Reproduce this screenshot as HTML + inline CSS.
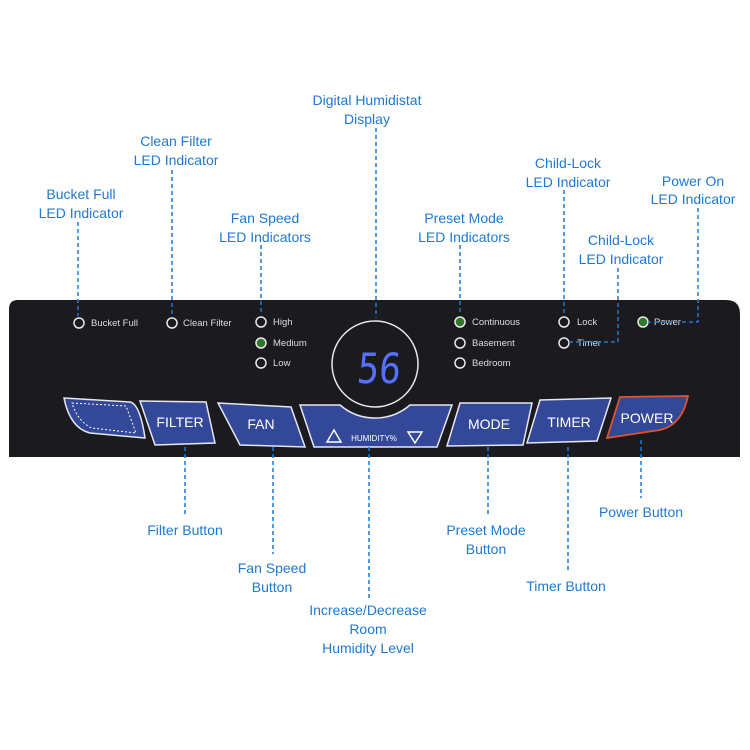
<!DOCTYPE html>
<html><head><meta charset="utf-8"><style>
html,body{margin:0;padding:0;background:#fff;width:750px;height:750px;overflow:hidden}
svg{display:block}
.l{font-family:"Liberation Sans",sans-serif;font-size:14px;fill:#1f78d1;text-anchor:middle}
.d{stroke:#1f78d1;stroke-width:1.5;stroke-dasharray:4,3;fill:none}
.w{font-family:"Liberation Sans",sans-serif;font-size:9.5px;fill:#ddd}
.led{fill:none;stroke:#e8e8e8;stroke-width:1.5}
.g{fill:#2f7a2a;stroke:#e8e8e8;stroke-width:1.5}
.b{fill:#34489a;stroke:#e6e6f0;stroke-width:1.5}
.bt{font-family:"Liberation Sans",sans-serif;font-size:14px;fill:#fff;text-anchor:middle}
</style></head><body>
<svg width="750" height="750" viewBox="0 0 750 750">
<path d="M18,300 H726 Q740,300 740,314 V457 H9 V309 Q9,300 18,300 Z" fill="#1b1b1f"/>
<circle class="led" cx="79" cy="323" r="5"/><text class="w" x="91" y="326">Bucket Full</text>
<circle class="led" cx="172" cy="323" r="5"/><text class="w" x="183" y="326">Clean Filter</text>
<circle class="led" cx="261" cy="322" r="5"/><text class="w" x="273" y="325">High</text>
<circle class="g" cx="261" cy="343" r="5"/><text class="w" x="273" y="346">Medium</text>
<circle class="led" cx="261" cy="363" r="5"/><text class="w" x="273" y="366">Low</text>
<circle class="g" cx="460" cy="322" r="5"/><text class="w" x="472" y="325">Continuous</text>
<circle class="led" cx="460" cy="343" r="5"/><text class="w" x="472" y="346">Basement</text>
<circle class="led" cx="460" cy="363" r="5"/><text class="w" x="472" y="366">Bedroom</text>
<circle class="led" cx="564" cy="322" r="5"/><text class="w" x="577" y="325">Lock</text>
<circle class="led" cx="564" cy="343" r="5"/><text class="w" x="577" y="346">Timer</text>
<circle class="g" cx="643" cy="322" r="5"/><text class="w" x="654" y="325">Power</text>
<circle cx="375" cy="364" r="43" fill="none" stroke="#e8e8e8" stroke-width="1.5"/>
<text x="0" y="0" font-family="DejaVu Sans Mono,Liberation Mono,monospace" font-size="38" fill="#5570ff" text-anchor="middle" transform="translate(378 383) scale(0.95 1.1) skewX(-6)">56</text>
<path class="b" d="M64,398 L130,402 Q140,404 145,438 L90,433 Q70,428 64,398 Z"/>
<path d="M72,403 L126,406 L136,433 L92,428 Q78,422 72,403 Z" fill="none" stroke="#fff" stroke-width="1" stroke-dasharray="2,2"/>
<path class="b" d="M140,401 L206,402 L215,443 L155,445 Z"/>
<text class="bt" x="180" y="427">FILTER</text>
<path class="b" d="M218,403 L291,407 L305,447 L240,445 Z"/>
<text class="bt" x="261" y="429">FAN</text>
<path class="b" d="M300,405 L340,405 Q355,418 375,418 Q395,418 410,405 L452,405 L437,447 L314,447 Z"/>
<path d="M327,442 L334,430 L341,442 Z" fill="none" stroke="#fff" stroke-width="1.5"/>
<path d="M408,432 L422,432 L415,443 Z" fill="none" stroke="#fff" stroke-width="1.5"/>
<text x="374" y="441" font-family="Liberation Sans,sans-serif" font-size="8" fill="#fff" text-anchor="middle">HUMIDITY%</text>
<path class="b" d="M460,403 L532,403 L523,445 L447,446 Z"/>
<text class="bt" x="489" y="429">MODE</text>
<path class="b" d="M540,400 L611,398 L597,441 L527,443 Z"/>
<text class="bt" x="569" y="427">TIMER</text>
<path d="M620,397 L688,396 Q682,425 660,430 L607,438 Z" fill="#34489a" stroke="#e0522c" stroke-width="1.8"/>
<text class="bt" x="647" y="423">POWER</text>
<line class="d" x1="376" y1="128" x2="376" y2="318"/>
<line class="d" x1="172" y1="170" x2="172" y2="316"/>
<line class="d" x1="78" y1="222" x2="78" y2="316"/>
<line class="d" x1="261" y1="245" x2="261" y2="315"/>
<line class="d" x1="460" y1="245" x2="460" y2="315"/>
<line class="d" x1="564" y1="190" x2="564" y2="315"/>
<polyline class="d" points="618,268 618,342 568,342"/>
<polyline class="d" points="698,208 698,322 648,322"/>
<line class="d" x1="185" y1="447" x2="185" y2="516"/>
<line class="d" x1="273" y1="447" x2="273" y2="554"/>
<line class="d" x1="369" y1="447" x2="369" y2="598"/>
<line class="d" x1="488" y1="447" x2="488" y2="516"/>
<line class="d" x1="568" y1="447" x2="568" y2="572"/>
<line class="d" x1="641" y1="440" x2="641" y2="498"/>
<text class="l" x="367" y="105">Digital Humidistat</text><text class="l" x="367" y="124">Display</text>
<text class="l" x="176" y="146">Clean Filter</text><text class="l" x="176" y="165">LED Indicator</text>
<text class="l" x="81" y="199">Bucket Full</text><text class="l" x="81" y="218">LED Indicator</text>
<text class="l" x="265" y="223">Fan Speed</text><text class="l" x="265" y="242">LED Indicators</text>
<text class="l" x="464" y="223">Preset Mode</text><text class="l" x="464" y="242">LED Indicators</text>
<text class="l" x="568" y="168">Child-Lock</text><text class="l" x="568" y="187">LED Indicator</text>
<text class="l" x="621" y="245">Child-Lock</text><text class="l" x="621" y="264">LED Indicator</text>
<text class="l" x="693" y="186">Power On</text><text class="l" x="693" y="204">LED Indicator</text>
<text class="l" x="185" y="535">Filter Button</text>
<text class="l" x="272" y="573">Fan Speed</text><text class="l" x="272" y="592">Button</text>
<text class="l" x="368" y="615">Increase/Decrease</text><text class="l" x="368" y="634">Room</text><text class="l" x="368" y="653">Humidity Level</text>
<text class="l" x="486" y="535">Preset Mode</text><text class="l" x="486" y="554">Button</text>
<text class="l" x="566" y="591">Timer Button</text>
<text class="l" x="641" y="517">Power Button</text>
</svg>
</body></html>
